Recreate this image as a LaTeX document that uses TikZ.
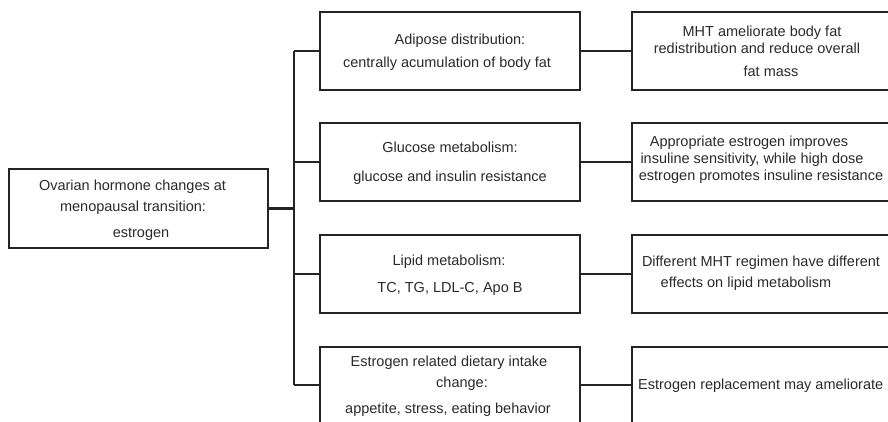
\documentclass[tikz,border=0pt]{standalone}
\usepackage{fontspec}
\setmainfont{Liberation Sans}
\definecolor{linecol}{HTML}{242424}
\definecolor{textcol}{HTML}{2A2A2A}
\begin{document}
\begin{tikzpicture}[x=1pt,y=-1pt,
  box/.style={draw=linecol, line width=1.7pt, inner sep=0pt, outer sep=0pt, anchor=north west},
  link/.style={draw=linecol, line width=1.5pt},
  boldlink/.style={draw=linecol, line width=2.6pt},
  txt/.style={anchor=base, inner sep=0pt, text=textcol, font=\fontsize{14.5}{17}\selectfont}]
\useasboundingbox (0,0) rectangle (888,421);
\clip (0,0) rectangle (888,421);

% source box
\node[box, minimum width=259pt, minimum height=79pt] (L) at (9,169) {};
% middle column
\node[box, minimum width=260pt, minimum height=78pt] (A) at (320,12) {};
\node[box, minimum width=260pt, minimum height=78pt] (B) at (320,123) {};
\node[box, minimum width=260pt, minimum height=78pt] (C) at (320,235) {};
\node[box, minimum width=260pt, minimum height=76pt] (D) at (320,347) {};
% right column
\node[box, minimum width=300pt, minimum height=78pt] (RA) at (632,12) {};
\node[box, minimum width=300pt, minimum height=78pt] (RB) at (632,123) {};
\node[box, minimum width=300pt, minimum height=78pt] (RC) at (632,235) {};
\node[box, minimum width=300pt, minimum height=76pt] (RD) at (632,347) {};

% trunk
\coordinate (tA) at (294,51);
\coordinate (tB) at (294,162);
\coordinate (tL) at (294,208.5);
\coordinate (tC) at (294,274);
\coordinate (tD) at (294,385);
\draw[link] (tA) -- (tD);
\draw[boldlink] (tB) -- (tC);
\draw[boldlink] (L.east) -- (tL);
\draw[link] (tA) -- (A.west);
\draw[link] (tB) -- (B.west);
\draw[link] (tC) -- (C.west);
\draw[link] (tD) -- (D.west);
\draw[link] (A.east) -- (RA.west);
\draw[link] (B.east) -- (RB.west);
\draw[link] (C.east) -- (RC.west);
\draw[link] (D.east) -- (RD.west);

% texts
\node[txt] (L1) at (132.5,190.5) {Ovarian hormone changes at};
\node[txt] (L2) at (133,211) {menopausal transition:};
\node[txt] (L3) at (141,237) {estrogen};

\node[txt] (A1) at (460,44) {Adipose distribution:};
\node[txt] (A2) at (447,67) {centrally acumulation of body fat};

\node[txt] (B1) at (450,152.5) {Glucose metabolism:};
\node[txt] (B2) at (450,181.5) {glucose and insulin resistance};

\node[txt] (C1) at (449,265.5) {Lipid metabolism:};
\node[txt] (C2) at (450,292) {TC, TG, LDL-C, Apo B};

\node[txt] (D1) at (449,366.5) {Estrogen related dietary intake};
\node[txt] (D2) at (462,387) {change:};
\node[txt] (D3) at (448,413) {appetite, stress, eating behavior};

\node[txt] (RA1) at (762,36.5) {MHT ameliorate body fat};
\node[txt] (RA2) at (757,53) {redistribution and reduce overall};
\node[txt] (RA3) at (771,76.5) {fat mass};

\node[txt] (RB1) at (749,146) {Appropriate estrogen improves};
\node[txt] (RB2) at (752,163) {insuline sensitivity, while high dose};
\node[txt] (RB3) at (761,180.5) {estrogen promotes insuline resistance};

\node[txt] (RC1) at (761,266) {Different MHT regimen have different};
\node[txt] (RC2) at (746,287.5) {effects on lipid metabolism};

\node[txt, anchor=base west] (RD1) at (638,389) {Estrogen replacement may ameliorate};
\end{tikzpicture}
\end{document}
